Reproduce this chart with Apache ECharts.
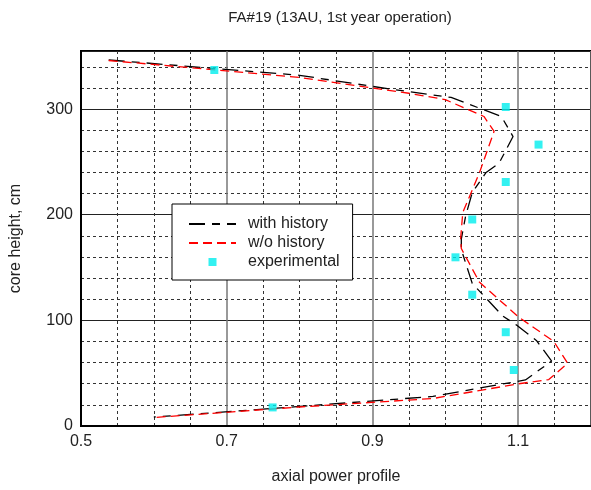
<!DOCTYPE html>
<html>
<head>
<meta charset="utf-8">
<script src="https://cdn.jsdelivr.net/npm/echarts@6/dist/echarts.min.js"></script>
<style>html,body{margin:0;padding:0;background:#fff;}#c{width:591px;height:490px;}</style>
</head>
<body>
<div id="c"></div>
<script>
var titleText = 'FA#19 (13AU, 1st year operation)';
var xName = 'axial power profile';
var yName = 'core height, cm';
var seriesNames = ['with history', 'w/o history', 'experimental'];

// with history: [power, height]
var withHistory = [
  [0.538, 346.5], [0.80, 332], [0.90, 321.5], [0.95, 316.5], [1.008, 311],
  [1.077, 293], [1.093, 274], [1.074, 249], [1.056, 240], [1.037, 221],
  [1.028, 199], [1.022, 177], [1.022, 167], [1.037, 135], [1.079, 104],
  [1.099, 95], [1.125, 81], [1.146, 61.5], [1.11, 43.6], [0.983, 28],
  [0.80, 18.5], [0.60, 8.5]
];
// w/o history
var woHistory = [
  [0.538, 346], [0.80, 330], [0.90, 320], [0.95, 315], [1.0, 309],
  [1.053, 293], [1.067, 279], [1.047, 240], [1.024, 202], [1.021, 177],
  [1.022, 168], [1.047, 136], [1.101, 103], [1.149, 80], [1.168, 59.3],
  [1.142, 44], [1.101, 40], [0.983, 26], [0.80, 18], [0.60, 8]
];
// experimental
var expX = [0.763, 1.094, 1.083, 1.037, 1.014, 1.037, 1.083, 1.128, 1.083, 0.683];
var expY = [17.6, 53, 88.8, 124.3, 159.7, 195.5, 231, 266.4, 302, 337];

var xTicks = [0.5, 0.7, 0.9, 1.1];
var yTicks = [0, 100, 200, 300];

var FONT = '"Liberation Sans", Arial, sans-serif';
var expData = expX.map(function (v, i) { return [v, expY[i]]; });

var chart = echarts.init(document.getElementById('c'), null, {renderer: 'canvas'});
chart.setOption({
  backgroundColor: '#fff',
  animation: false,
  title: {
    text: titleText, left: 335, top: 5, textAlign: 'center',
    textStyle: {fontFamily: FONT, fontSize: 15, fontWeight: 'normal', color: '#222'}
  },
  legend: {
    orient: 'vertical', left: 172, top: 204,
    backgroundColor: '#fff', borderColor: '#000', borderWidth: 1,
    padding: [12, 13, 10, 16], itemGap: 3, itemWidth: 47, itemHeight: 8,
    textStyle: {fontFamily: FONT, fontSize: 16, color: '#222', padding: [0, 0, 0, 7]},
    data: [
      {name: seriesNames[0], itemStyle: {opacity: 0}},
      {name: seriesNames[1], itemStyle: {opacity: 0}},
      {name: seriesNames[2], icon: 'path://M0 0H10V10H0Z'}
    ]
  },
  grid: {left: 79, top: 51, width: 514, height: 377, show: true, borderColor: '#000', borderWidth: 2, containLabel: false},
  xAxis: {
    type: 'value', min: 0.5, max: 1.2, interval: 0.2,
    name: xName, nameLocation: 'middle', nameGap: 43,
    nameTextStyle: {fontFamily: FONT, fontSize: 16, color: '#222'},
    axisLine: {show: true, lineStyle: {color: '#000', width: 2}},
    axisTick: {show: false},
    axisLabel: {fontFamily: FONT, fontSize: 16, color: '#222', margin: 8, showMaxLabel: false,
      formatter: function (v) { return xTicks.indexOf(Math.round(v * 10) / 10) >= 0 ? v.toFixed(1) : ''; }},
    splitLine: {show: true, lineStyle: {color: '#777', width: 1.5}},
    minorTick: {show: false, splitNumber: 4},
    minorSplitLine: {show: true, lineStyle: {color: '#333', width: 1, type: [3, 3]}}
  },
  yAxis: {
    type: 'value', min: 0, max: 355, interval: 100,
    name: yName, nameLocation: 'middle', nameGap: 57,
    nameTextStyle: {fontFamily: FONT, fontSize: 16, color: '#222'},
    axisLine: {show: true, lineStyle: {color: '#000', width: 2}},
    axisTick: {show: false},
    axisLabel: {fontFamily: FONT, fontSize: 16, color: '#222', margin: 8, showMaxLabel: false,
      formatter: function (v) { return yTicks.indexOf(v) >= 0 ? String(v) : ''; }},
    splitLine: {show: true, lineStyle: {color: '#222', width: 1.2}},
    minorTick: {show: false, splitNumber: 5},
    minorSplitLine: {show: true, lineStyle: {color: '#333', width: 1, type: [3, 3]}}
  },
  series: [
    {
      name: seriesNames[0], type: 'line', data: withHistory, symbol: 'none',
      lineStyle: {color: '#000', width: 1.3, type: [16, 7, 8, 7]},
      itemStyle: {color: '#000'}, z: 3
    },
    {
      name: seriesNames[1], type: 'line', data: woHistory, symbol: 'none',
      lineStyle: {color: '#ff0000', width: 1.3, type: [9, 5]},
      itemStyle: {color: '#ff0000'}, z: 4
    },
    {
      name: seriesNames[2], type: 'scatter', data: expData, symbol: 'rect', symbolSize: 8,
      itemStyle: {color: '#00eeee'}, z: 5
    }
  ]
});
</script>
</body>
</html>
